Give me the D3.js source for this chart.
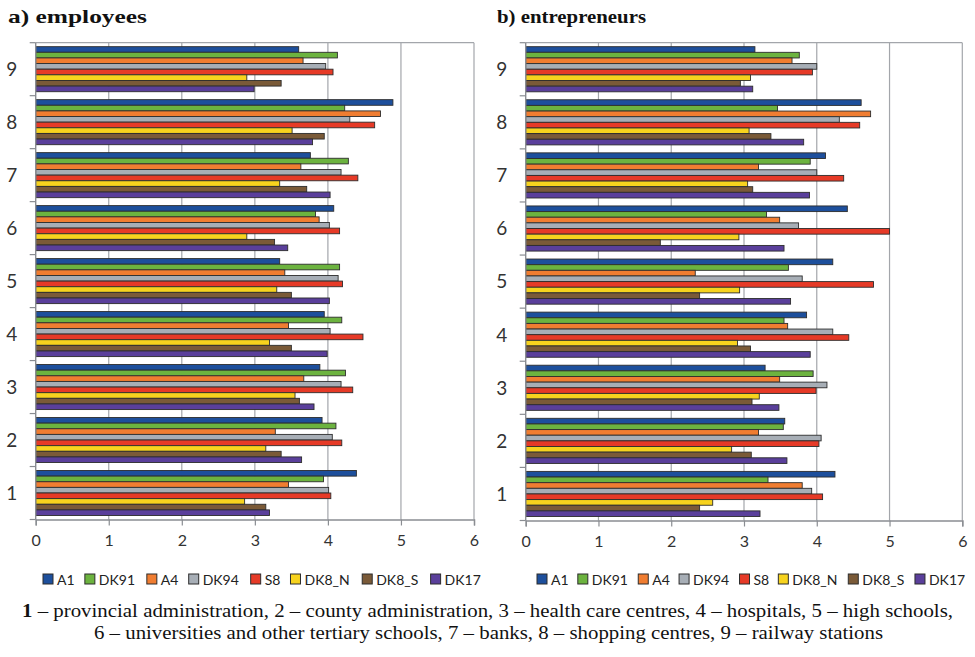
<!DOCTYPE html>
<html>
<head>
<meta charset="utf-8">
<script src="https://cdn.jsdelivr.net/npm/d3@7"></script>
<style>
  html, body { margin: 0; padding: 0; background: #fff; }
  svg { display: block; }
</style>
</head>
<body>
<svg id="chart" width="975" height="657"></svg>
<script>
// Location categories (1..9) and the eight transport-link series
const categories = ["1", "2", "3", "4", "5", "6", "7", "8", "9"];
const seriesNames = ["A1", "DK91", "A4", "DK94", "S8", "DK8_N", "DK8_S", "DK17"];
const seriesColors = ["#1d4f9c", "#6cb33f", "#f07d31", "#a7aeb6", "#e63a27", "#f7d31e", "#7a5a38", "#5a3f9b"];
const xTicks = [0, 1, 2, 3, 4, 5, 6];

// a) employees — one value per category 1..9
const empA1    = [4.39, 3.92, 3.89, 3.95, 3.34, 4.08, 3.76, 4.89, 3.60];
const empDK91  = [3.94, 4.11, 4.24, 4.19, 4.16, 3.83, 4.28, 4.23, 4.13];
const empA4    = [3.46, 3.28, 3.67, 3.46, 3.41, 3.88, 3.63, 4.72, 3.66];
const empDK94  = [4.01, 4.06, 4.18, 4.03, 4.14, 4.02, 4.18, 4.30, 3.97];
const empS8    = [4.04, 4.19, 4.34, 4.48, 4.20, 4.16, 4.41, 4.64, 4.07];
const empDK8N  = [2.86, 3.15, 3.55, 3.20, 3.30, 2.89, 3.34, 3.51, 2.89];
const empDK8S  = [3.15, 3.36, 3.61, 3.50, 3.50, 3.27, 3.71, 3.95, 3.36];
const empDK17  = [3.20, 3.64, 3.81, 3.99, 4.02, 3.45, 4.03, 3.79, 2.99];

// b) entrepreneurs — one value per category 1..9
const entA1    = [4.25, 3.56, 3.29, 3.86, 4.22, 4.42, 4.12, 4.61, 3.15];
const entDK91  = [3.33, 3.54, 3.95, 3.55, 3.61, 3.31, 3.91, 3.46, 3.76];
const entA4    = [3.80, 3.20, 3.49, 3.60, 2.33, 3.49, 3.20, 4.74, 3.66];
const entDK94  = [3.93, 4.06, 4.14, 4.22, 3.80, 3.75, 4.00, 4.31, 4.00];
const entS8    = [4.08, 4.03, 3.99, 4.44, 4.78, 5.00, 4.37, 4.59, 3.94];
const entDK8N  = [2.57, 2.83, 3.21, 2.91, 2.94, 2.93, 3.05, 3.07, 3.09];
const entDK8S  = [2.39, 3.10, 3.11, 3.09, 2.39, 1.85, 3.12, 3.37, 2.95];
const entDK17  = [3.22, 3.59, 3.48, 3.91, 3.64, 3.55, 3.90, 3.82, 3.12];

const employeesSeries = [empA1, empDK91, empA4, empDK94, empS8, empDK8N, empDK8S, empDK17];
const entrepreneursSeries = [entA1, entDK91, entA4, entDK94, entS8, entDK8N, entDK8S, entDK17];

const svg = d3.select("#chart");
const sansFont = "Lato, 'Open Sans', 'DejaVu Sans', sans-serif";
const serifFont = "'Liberation Serif', 'DejaVu Serif', serif";

function drawPanel(opts) {
  const { x0, x1, y0, y1, title, titleX, titleW, data, legendX0, legendX1 } = opts;
  const g = svg.append("g");

  const x = d3.scaleLinear().domain([0, 6]).range([x0, x1]);
  // category 9 at the top, 1 at the bottom
  const y = d3.scaleBand().domain(categories.slice().reverse()).range([y0, y1])
    .paddingInner(0.15).paddingOuter(0.075);
  const yInner = d3.scaleBand().domain(seriesNames).range([0, y.bandwidth()]);
  const step = (y1 - y0) / categories.length;

  // panel title
  svg.append("text")
    .attr("x", titleX).attr("y", 23)
    .attr("font-family", serifFont).attr("font-weight", "bold")
    .attr("font-size", 19).attr("fill", "#111")
    .attr("textLength", titleW).attr("lengthAdjust", "spacingAndGlyphs")
    .text(title);

  // vertical gridlines
  g.append("g").selectAll("line").data(xTicks.slice(1)).join("line")
    .attr("x1", d => x(d)).attr("x2", d => x(d))
    .attr("y1", y0).attr("y2", y1)
    .attr("stroke", "#a3a6ab").attr("stroke-width", 1.2);
  // top border of plot area
  g.append("line")
    .attr("x1", x0).attr("x2", x1).attr("y1", y0).attr("y2", y0)
    .attr("stroke", "#a3a6ab").attr("stroke-width", 1.2);

  // bars
  const groups = g.append("g").selectAll("g").data(categories).join("g")
    .attr("transform", c => `translate(0,${y(c)})`);
  groups.selectAll("rect")
    .data(c => seriesNames.map((s, i) => ({ s, i, v: data[i][categories.indexOf(c)] })))
    .join("rect")
    .attr("x", x(0))
    .attr("y", d => yInner(d.s))
    .attr("width", d => x(d.v) - x(0))
    .attr("height", yInner.bandwidth())
    .attr("fill", d => seriesColors[d.i])
    .attr("stroke", "#2d2d2d").attr("stroke-width", 0.9);

  // x axis
  const xAxis = g.append("g").attr("transform", `translate(0,${y1})`)
    .call(d3.axisBottom(x).tickValues(xTicks).tickFormat(d3.format("d")).tickSizeOuter(0).tickSize(6).tickPadding(9));
  xAxis.select(".domain").attr("stroke", "#8a8d92").attr("stroke-width", 1.4);
  xAxis.selectAll(".tick line").attr("stroke", "#8a8d92").attr("stroke-width", 1.2);
  xAxis.selectAll("text").attr("font-family", sansFont).attr("font-size", 16).attr("fill", "#333");

  // y axis: ticks between categories, labels centred on each category
  const bounds = d3.range(categories.length + 1).map(i => y0 + i * step);
  g.append("line")
    .attr("x1", x0).attr("x2", x0).attr("y1", y0).attr("y2", y1)
    .attr("stroke", "#8a8d92").attr("stroke-width", 1.4);
  g.append("g").selectAll("line").data(bounds).join("line")
    .attr("x1", x0 - 6).attr("x2", x0).attr("y1", d => d).attr("y2", d => d)
    .attr("stroke", "#8a8d92").attr("stroke-width", 1.2);
  g.append("g").selectAll("text").data(categories).join("text")
    .attr("x", x0 - 24).attr("y", c => y(c) + y.bandwidth() / 2)
    .attr("dy", "0.36em").attr("text-anchor", "middle")
    .attr("font-family", sansFont).attr("font-size", 19).attr("fill", "#333")
    .text(c => c);

  // legend
  const leg = g.append("g");
  const items = [];
  let cx = 0;
  const tmp = leg.append("text").attr("font-family", sansFont).attr("font-size", 14);
  seriesNames.forEach((s, i) => {
    tmp.text(s);
    const w = tmp.node().getComputedTextLength();
    items.push({ s, i, off: cx });
    cx += 10 + 4 + w + 7;
  });
  tmp.remove();
  const total = cx - 7;
  const scaleF = (legendX1 - legendX0) / total;
  const li = leg.selectAll("g").data(items).join("g")
    .attr("transform", d => `translate(${legendX0 + d.off * scaleF},580)`);
  li.append("rect")
    .attr("x", 0).attr("y", -6).attr("width", 10).attr("height", 10)
    .attr("fill", d => seriesColors[d.i]).attr("stroke", "#2d2d2d").attr("stroke-width", 1);
  li.append("text")
    .attr("x", 14).attr("y", 0).attr("dy", "0.35em")
    .attr("font-family", sansFont).attr("font-size", 14).attr("fill", "#222")
    .text(d => d.s);
}

drawPanel({
  x0: 35.7, x1: 474, y0: 42.7, y1: 519.5,
  title: "a) employees", titleX: 8, titleW: 139,
  data: employeesSeries, legendX0: 43, legendX1: 485
});
drawPanel({
  x0: 525.7, x1: 962.3, y0: 42.7, y1: 520.5,
  title: "b) entrepreneurs", titleX: 497, titleW: 149,
  data: entrepreneursSeries, legendX0: 537, legendX1: 968
});

// caption
const cap = svg.append("g").attr("font-family", serifFont).attr("font-size", 18.5).attr("fill", "#111");
const line1 = cap.append("text").attr("x", 22).attr("y", 617)
  .attr("textLength", 931).attr("lengthAdjust", "spacingAndGlyphs");
line1.append("tspan").attr("font-weight", "bold").text("1");
line1.append("tspan").text(" – provincial administration, 2 – county administration, 3 – health care centres, 4 – hospitals, 5 – high schools,");
cap.append("text").attr("x", 94).attr("y", 639)
  .attr("textLength", 789).attr("lengthAdjust", "spacingAndGlyphs")
  .text("6 – universities and other tertiary schools, 7 – banks, 8 – shopping centres, 9 – railway stations");
</script>
</body>
</html>
